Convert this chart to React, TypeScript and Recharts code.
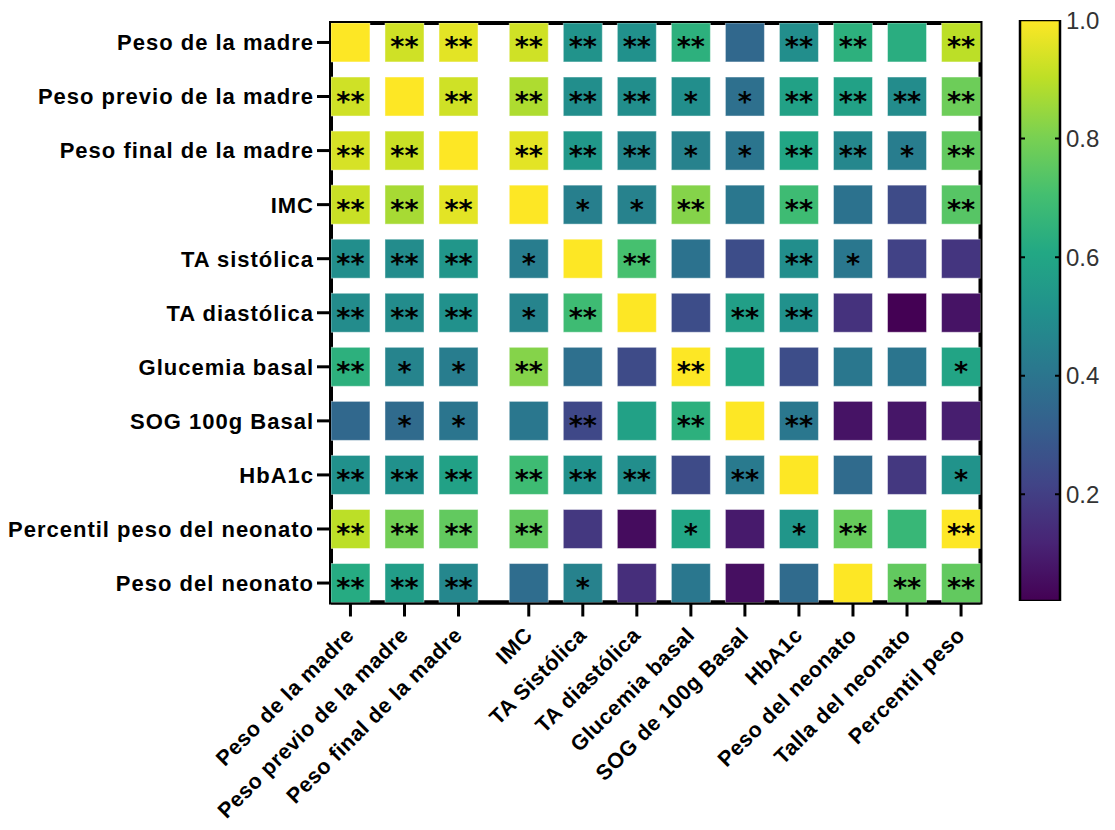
import React from "react";
import {
  Bar,
  BarChart,
  ReferenceArea,
  ReferenceLine,
  Scatter,
  ScatterChart,
  XAxis,
  YAxis,
} from "recharts";

// filas (eje Y)
const rowLabels = [
  "Peso de la madre",
  "Peso previo de la madre",
  "Peso final de la madre",
  "IMC",
  "TA sistólica",
  "TA diastólica",
  "Glucemia basal",
  "SOG 100g Basal",
  "HbA1c",
  "Percentil peso del neonato",
  "Peso del neonato",
];

// columnas (eje X)
const colLabels = [
  "Peso de la madre",
  "Peso previo de la madre",
  "Peso final de la madre",
  "IMC",
  "TA Sistólica",
  "TA diastólica",
  "Glucemia basal",
  "SOG de 100g Basal",
  "HbA1c",
  "Peso del neonato",
  "Talla del neonato",
  "Percentil peso",
];

const pesoMadre = [1.0, 0.93, 0.96, 0.93, 0.52, 0.51, 0.64, 0.35, 0.5, 0.64, 0.63, 0.9];
const pesoPrevio = [0.93, 1.0, 0.93, 0.88, 0.5, 0.5, 0.5, 0.38, 0.58, 0.58, 0.49, 0.78];
const pesoFinal = [0.94, 0.92, 1.0, 0.96, 0.54, 0.47, 0.45, 0.4, 0.6, 0.47, 0.43, 0.76];
const imc = [0.92, 0.87, 0.96, 1.0, 0.44, 0.45, 0.82, 0.41, 0.69, 0.39, 0.24, 0.74];
const taSistolica = [0.5, 0.49, 0.53, 0.43, 1.0, 0.71, 0.39, 0.25, 0.5, 0.41, 0.21, 0.17];
const taDiastolica = [0.49, 0.49, 0.51, 0.46, 0.69, 1.0, 0.25, 0.57, 0.51, 0.16, 0.02, 0.07];
const glucemia = [0.64, 0.46, 0.43, 0.82, 0.38, 0.24, 1.0, 0.6, 0.25, 0.41, 0.4, 0.59];
const sog = [0.35, 0.36, 0.4, 0.41, 0.23, 0.58, 0.64, 1.0, 0.41, 0.07, 0.08, 0.1];
const hba1c = [0.51, 0.51, 0.58, 0.69, 0.51, 0.5, 0.24, 0.42, 1.0, 0.36, 0.18, 0.52];
const percentil = [0.9, 0.79, 0.76, 0.76, 0.18, 0.05, 0.6, 0.09, 0.53, 0.77, 0.67, 1.0];
const pesoNeonato = [0.62, 0.56, 0.47, 0.37, 0.45, 0.15, 0.41, 0.06, 0.36, 1.0, 0.76, 0.76];

// significacion
const sigPesoMadre = ["", "**", "**", "**", "**", "**", "**", "", "**", "**", "", "**"];
const sigPesoPrevio = ["**", "", "**", "**", "**", "**", "*", "*", "**", "**", "**", "**"];
const sigPesoFinal = ["**", "**", "", "**", "**", "**", "*", "*", "**", "**", "*", "**"];
const sigImc = ["**", "**", "**", "", "*", "*", "**", "", "**", "", "", "**"];
const sigTaSis = ["**", "**", "**", "*", "", "**", "", "", "**", "*", "", ""];
const sigTaDia = ["**", "**", "**", "*", "**", "", "", "**", "**", "", "", ""];
const sigGlucemia = ["**", "*", "*", "**", "", "", "**", "", "", "", "", "*"];
const sigSog = ["", "*", "*", "", "**", "", "**", "", "**", "", "", ""];
const sigHba1c = ["**", "**", "**", "**", "**", "**", "", "**", "", "", "", "*"];
const sigPercentil = ["**", "**", "**", "**", "", "", "*", "", "*", "**", "", "**"];
const sigPesoNeonato = ["**", "**", "**", "", "*", "", "", "", "", "", "**", "**"];

const valueRows = [pesoMadre, pesoPrevio, pesoFinal, imc, taSistolica, taDiastolica, glucemia, sog, hba1c, percentil, pesoNeonato];
const sigRows = [sigPesoMadre, sigPesoPrevio, sigPesoFinal, sigImc, sigTaSis, sigTaDia, sigGlucemia, sigSog, sigHba1c, sigPercentil, sigPesoNeonato];

const scaleMin = 0.02;
const scaleTicks = [0.2, 0.4, 0.6, 0.8, 1.0];

const viridisStops = [
  "#440154", "#482475", "#414487", "#355f8d", "#2a788e", "#21918c",
  "#22a884", "#44bf70", "#7ad151", "#bddf26", "#fde725",
];

function hexToRgb(h: string) {
  return [1, 3, 5].map((i) => parseInt(h.slice(i, i + 2), 16));
}

function viridis(v: number) {
  let t = (v - scaleMin) / (1 - scaleMin);
  t = Math.max(0, Math.min(1, t));
  const p = t * (viridisStops.length - 1);
  const i = Math.min(Math.floor(p), viridisStops.length - 2);
  const f = p - i;
  const a = hexToRgb(viridisStops[i]);
  const b = hexToRgb(viridisStops[i + 1]);
  const c = a.map((x, k) => Math.round(x + (b[k] - x) * f));
  return `rgb(${c[0]},${c[1]},${c[2]})`;
}

// small gap after the three maternal weight columns
const colPositions = colLabels.map((_, i) => i + (i > 2 ? 0.3 : 0));

const cells = valueRows.flatMap((row, r) =>
  row.map((v, c) => ({ x: colPositions[c], y: r, value: v, sig: sigRows[r][c] }))
);

const CELL = 39;

const CellShape = (props: any) => {
  const { cx, cy, payload } = props;
  return (
    <g>
      <rect
        x={cx - CELL / 2}
        y={cy - CELL / 2}
        width={CELL}
        height={CELL}
        fill={viridis(payload.value)}
        stroke="rgba(255,255,255,0.45)"
        strokeWidth={1}
      />
      {payload.sig ? (
        <text
          x={cx}
          y={cy + 14}
          textAnchor="middle"
          fontFamily="DejaVu Sans"
          fontWeight="bold"
          fontSize={27}
          fill="#000"
        >
          {payload.sig}
        </text>
      ) : null}
    </g>
  );
};

const RowTick = (props: any) => {
  const { x, y, index } = props;
  return (
    <text
      x={x}
      y={y}
      dy="0.36em"
      textAnchor="end"
      fontFamily="Liberation Sans, Arial"
      fontWeight="bold"
      fontSize={22}
      letterSpacing={1}
      fill="#000"
    >
      {rowLabels[index]}
    </text>
  );
};

const ColTick = (props: any) => {
  const { x, y, index } = props;
  const ax = x + 5;
  const ay = y + 20;
  return (
    <text
      x={ax}
      y={ay}
      textAnchor="end"
      transform={`rotate(-45, ${ax}, ${ay})`}
      fontFamily="Liberation Sans, Arial"
      fontWeight="bold"
      fontSize={21.5}
      letterSpacing={0.5}
      fill="#000"
    >
      {colLabels[index]}
    </text>
  );
};

const xDomain = [-0.36, colPositions[colPositions.length - 1] + 0.36];
const yDomain = [-0.36, rowLabels.length - 1 + 0.36];

const scaleData = [{ name: "escala", rango: [scaleMin, 1] }];

export default function App() {
  return (
    <div style={{ position: "absolute", left: 0, top: 0, width: 1115, height: 830, background: "#fff" }}>
      <div style={{ position: "absolute", left: 0, top: 0 }}>
        <ScatterChart width={1000} height={830} margin={{ top: 23, right: 19.5, bottom: 27.5, left: 0 }}>
          <XAxis
            type="number"
            dataKey="x"
            domain={xDomain}
            allowDataOverflow
            ticks={colPositions}
            interval={0}
            height={200}
            tick={<ColTick />}
            tickSize={14}
            tickMargin={0}
            tickLine={{ stroke: "#000", strokeWidth: 3 }}
            axisLine={{ stroke: "#000", strokeWidth: 4 }}
          />
          <YAxis
            type="number"
            dataKey="y"
            domain={yDomain}
            allowDataOverflow
            reversed
            ticks={rowLabels.map((_, i) => i)}
            interval={0}
            width={331}
            tick={<RowTick />}
            tickSize={14}
            tickMargin={3}
            tickLine={{ stroke: "#000", strokeWidth: 3 }}
            axisLine={{ stroke: "#000", strokeWidth: 4 }}
          />
          <Scatter data={cells} shape={<CellShape />} isAnimationActive={false} />
          <ReferenceArea
            x1={xDomain[0]}
            x2={xDomain[1]}
            y1={yDomain[0]}
            y2={yDomain[1]}
            fill="none"
            stroke="#000"
            strokeWidth={4}
            ifOverflow="visible"
          />
        </ScatterChart>
      </div>
      <div style={{ position: "absolute", left: 1000, top: 0 }}>
        <BarChart
          width={115}
          height={830}
          data={scaleData}
          margin={{ top: 20, right: 0, bottom: 229, left: 20 }}
          barCategoryGap={0}
          barGap={0}
        >
          <defs>
            <linearGradient id="viridisGrad" x1="0" y1="1" x2="0" y2="0">
              {viridisStops.map((c, i) => (
                <stop key={c} offset={`${(i / (viridisStops.length - 1)) * 100}%`} stopColor={c} />
              ))}
            </linearGradient>
          </defs>
          <XAxis dataKey="name" hide />
          <YAxis
            orientation="right"
            type="number"
            domain={[scaleMin, 1]}
            allowDataOverflow
            ticks={scaleTicks}
            interval={0}
            width={55}
            axisLine={false}
            tickLine={false}
            tickSize={0}
            tickMargin={6}
            tickFormatter={(v: number) => v.toFixed(1)}
            tick={{ fill: "#333", fontSize: 24, fontFamily: "Liberation Sans, Arial" }}
          />
          <Bar dataKey="rango" fill="url(#viridisGrad)" stroke="#000" strokeWidth={2.5} isAnimationActive={false} />
          {scaleTicks.slice(0, 4).map((v) => (
            <ReferenceLine key={v} y={v} stroke="#000" strokeWidth={2} strokeDasharray="5 30 5" />
          ))}
        </BarChart>
      </div>
    </div>
  );
}
